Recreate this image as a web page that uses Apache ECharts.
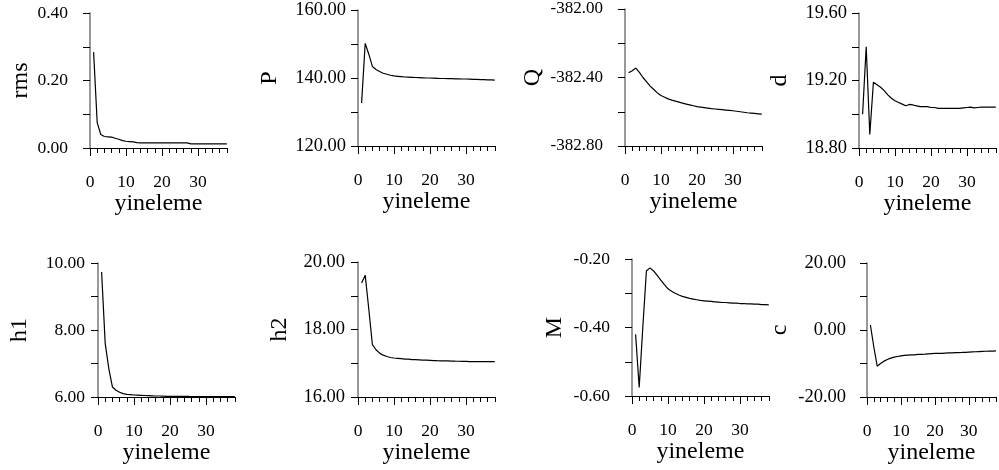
<!DOCTYPE html>
<html>
<head>
<meta charset="utf-8">
<title>yineleme</title>
<script src="https://cdn.jsdelivr.net/npm/echarts@6/dist/echarts.min.js"></script>
<style>
    html, body { margin: 0; padding: 0; background: #fff; }
    #main { width: 999px; height: 470px; }
</style>
</head>
<body>
<div id="main"></div>
<script>
    "use strict";

    // iteration numbers (x of every panel)
    var iterations = [];
    for (var k = 1; k <= 38; k++) iterations.push(k);
    var xTickValues = [0, 10, 20, 30];

    // values, one per iteration
    var rms = [0.284, 0.075, 0.040, 0.034, 0.033, 0.032, 0.029, 0.026, 0.022, 0.020,
        0.019, 0.018, 0.016, 0.015, 0.015, 0.015, 0.015, 0.015, 0.015, 0.015,
        0.015, 0.015, 0.015, 0.015, 0.015, 0.015, 0.015, 0.012, 0.012, 0.012,
        0.012, 0.012, 0.012, 0.012, 0.012, 0.012, 0.012, 0.012];
    var P = [132.6, 150.2, 147.0, 143.4, 142.5, 141.9, 141.4, 141.1, 140.8, 140.6,
        140.5, 140.4, 140.3, 140.25, 140.2, 140.15, 140.1, 140.05, 140.0, 140.0,
        139.95, 139.9, 139.85, 139.85, 139.8, 139.8, 139.75, 139.75, 139.7, 139.7,
        139.65, 139.6, 139.6, 139.55, 139.5, 139.45, 139.45, 139.4];
    var Q = [-382.372, -382.36, -382.345, -382.37, -382.40, -382.425, -382.45, -382.47, -382.49, -382.505,
        -382.515, -382.525, -382.532, -382.538, -382.544, -382.55, -382.555, -382.56, -382.565, -382.57,
        -382.573, -382.576, -382.579, -382.582, -382.584, -382.586, -382.588, -382.59, -382.592, -382.594,
        -382.597, -382.6, -382.603, -382.606, -382.608, -382.61, -382.612, -382.614];
    var d = [19.00, 19.40, 18.88, 19.19, 19.175, 19.16, 19.14, 19.115, 19.095, 19.08,
        19.07, 19.06, 19.05, 19.058, 19.055, 19.05, 19.045, 19.045, 19.045, 19.04,
        19.04, 19.035, 19.035, 19.035, 19.035, 19.035, 19.035, 19.035, 19.038, 19.04,
        19.042, 19.038, 19.04, 19.042, 19.042, 19.042, 19.042, 19.042];
    var h1 = [9.73, 7.6, 6.85, 6.3, 6.2, 6.14, 6.1, 6.08, 6.07, 6.06,
        6.055, 6.05, 6.045, 6.04, 6.035, 6.03, 6.03, 6.025, 6.02, 6.02,
        6.02, 6.02, 6.02, 6.02, 6.02, 6.015, 6.015, 6.015, 6.015, 6.015,
        6.015, 6.015, 6.015, 6.015, 6.015, 6.015, 6.015, 6.015];
    var h2 = [19.38, 19.61, 18.6, 17.55, 17.4, 17.3, 17.24, 17.2, 17.17, 17.155,
        17.145, 17.135, 17.125, 17.12, 17.11, 17.105, 17.1, 17.095, 17.09, 17.085,
        17.08, 17.075, 17.072, 17.07, 17.068, 17.065, 17.062, 17.06, 17.058, 17.055,
        17.05, 17.05, 17.05, 17.05, 17.05, 17.05, 17.05, 17.05];
    var M = [-0.42, -0.575, -0.40, -0.235, -0.226, -0.235, -0.248, -0.262, -0.275, -0.287,
        -0.294, -0.300, -0.305, -0.309, -0.312, -0.315, -0.317, -0.319, -0.321, -0.322,
        -0.323, -0.324, -0.325, -0.326, -0.327, -0.327, -0.328, -0.329, -0.329, -0.330,
        -0.330, -0.331, -0.331, -0.332, -0.332, -0.333, -0.333, -0.334];
    var c = [1.5, -5.0, -10.8, -10.0, -9.3, -8.8, -8.4, -8.1, -7.9, -7.7,
        -7.6, -7.5, -7.45, -7.4, -7.3, -7.25, -7.2, -7.1, -7.05, -7.0,
        -6.98, -6.95, -6.9, -6.85, -6.8, -6.77, -6.74, -6.7, -6.65, -6.6,
        -6.55, -6.5, -6.45, -6.4, -6.35, -6.3, -6.28, -6.25];

    var FONT = "'Liberation Serif', 'Times New Roman', serif";

    // one entry per small chart, row by row
    var panels = [
        { name: 'rms', values: rms, min: 0, max: 0.4, step: 0.1, left: 90, top: 13, height: 135, labelGap: 22, labelSize: 17.5, nameGap: 57 },
        { name: 'P', values: P, min: 120, max: 160, step: 10, left: 358, top: 10, height: 136, labelGap: 12, labelSize: 18.5, nameGap: 76 },
        { name: 'Q', values: Q, min: -382.8, max: -382.0, step: 0.2, left: 625, top: 9, height: 137, labelGap: 22, labelSize: 17, nameGap: 80 },
        { name: 'd', values: d, min: 18.8, max: 19.6, step: 0.2, left: 859, top: 13, height: 135, labelGap: 12, labelSize: 18.5, nameGap: 67 },
        { name: 'h1', values: h1, min: 6, max: 10, step: 1, left: 98, top: 263, height: 134, labelGap: 13, labelSize: 17.5, nameGap: 66 },
        { name: 'h2', values: h2, min: 16, max: 20, step: 1, left: 358, top: 262, height: 135, labelGap: 13, labelSize: 18.5, nameGap: 66 },
        { name: 'M', values: M, min: -0.6, max: -0.2, step: 0.1, left: 632, top: 259, height: 137, labelGap: 22, labelSize: 17.5, nameGap: 65 },
        { name: 'c', values: c, min: -20, max: 20, step: 10, left: 867, top: 263, height: 134, labelGap: 21, labelSize: 18.5, nameGap: 75 }
    ];

    var grids = [], xAxes = [], yAxes = [], series = [];

    panels.forEach(function(p, i) {
        grids.push({ left: p.left, top: p.top, width: 136.8, height: p.height });

        // minor ticks every 2 iterations, labels every 10
        xAxes.push({
            gridIndex: i, type: 'value', min: 0, max: 38, interval: 2,
            axisLine: { onZero: false, lineStyle: { color: '#000', width: 1 } },
            axisTick: { length: 5, lineStyle: { color: '#000' } },
            axisLabel: {
                margin: 25, color: '#000', fontFamily: FONT, fontSize: 17.5,
                formatter: function(v) { return v % 10 === 0 ? String(v) : ''; }
            },
            splitLine: { show: false },
            name: 'yineleme', nameLocation: 'middle', nameGap: 43,
            nameTextStyle: { color: '#000', fontFamily: FONT, fontSize: 24 }
        });
        // longer ticks on the labelled values
        xAxes.push({
            gridIndex: i, type: 'value', min: 0, max: 38, position: 'bottom',
            axisLine: { show: false, onZero: false },
            axisTick: { length: 8, customValues: xTickValues, lineStyle: { color: '#000' } },
            axisLabel: { show: false },
            splitLine: { show: false }
        });

        yAxes.push({
            gridIndex: i, type: 'value', min: p.min, max: p.max, interval: p.step,
            axisLine: { show: true, onZero: false, lineStyle: { color: '#777', width: 1.5 } },
            axisTick: { show: true, length: 7, lineStyle: { color: '#000' } },
            axisLabel: {
                margin: p.labelGap, color: '#000', fontFamily: FONT, fontSize: p.labelSize,
                formatter: function(v) {
                    return Math.round((v - p.min) / p.step) % 2 ? '' : v.toFixed(2);
                }
            },
            splitLine: { show: false },
            name: p.name, nameLocation: 'middle', nameGap: p.nameGap,
            nameTextStyle: { color: '#000', fontFamily: FONT, fontSize: 24 }
        });

        series.push({
            type: 'line', xAxisIndex: 2 * i, yAxisIndex: i,
            showSymbol: false, silent: true,
            lineStyle: { color: '#000', width: 1.2 },
            data: iterations.map(function(x, j) { return [x, p.values[j]]; })
        });
    });

    var chart = echarts.init(document.getElementById('main'), null, { renderer: 'canvas' });
    chart.setOption({
        animation: false,
        backgroundColor: '#fff',
        grid: grids,
        xAxis: xAxes,
        yAxis: yAxes,
        series: series
    });
</script>
</body>
</html>
